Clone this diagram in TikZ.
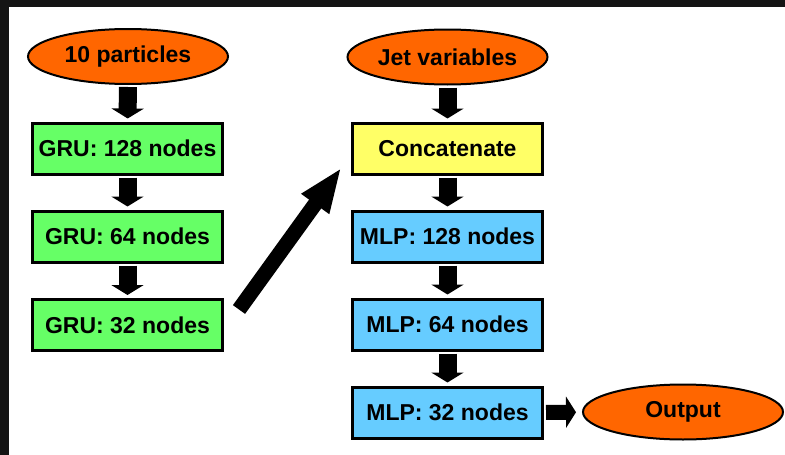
\documentclass[tikz,border=0pt]{standalone}
\usepackage{fontspec}
\setmainfont{Liberation Sans}
\usepackage{tikz}
\usepackage{xcolor}
\usetikzlibrary{shapes.geometric, arrows.meta}

\definecolor{gruGreen}{HTML}{66FF66}
\definecolor{concatYellow}{HTML}{FFFF66}
\definecolor{mlpBlue}{HTML}{66CCFF}
\definecolor{ioOrange}{HTML}{FF6600}
\definecolor{frameDark}{HTML}{141414}

\begin{document}
\begin{tikzpicture}[x=1pt, y=-1pt,
        every node/.style={font=\fontsize{23}{27}\selectfont\bfseries},
        layer/.style={draw, rectangle, line width=3pt, minimum width=190pt, minimum height=51pt, inner sep=0pt},
        io/.style={draw, ellipse, line width=2pt, fill=ioOrange, minimum width=200pt, minimum height=55pt, inner sep=0pt},
        flow/.style={line width=18pt, -{Triangle[width=32pt, length=10pt]}, shorten <=2pt, shorten >=3pt}]
        % frame
        \fill[frameDark] (0, 0) rectangle (785, 455);
        \fill[white] (9, 7) rectangle (785, 455);

        \node (parts)  at (128.0,  56.5) [io] {10 particles};
        \node (gru1)   at (127.5, 148.5) [layer, fill=gruGreen] {GRU: 128 nodes};
        \node (gru2)   at (127.5, 236.5) [layer, fill=gruGreen] {GRU: 64 nodes};
        \node (gru3)   at (127.5, 325.0) [layer, fill=gruGreen] {GRU: 32 nodes};

        \node (jet)    at (447.5,  57.0) [io] {Jet variables};
        \node (concat) at (447.5, 148.5) [layer, fill=concatYellow] {Concatenate};
        \node (mlp1)   at (447.5, 236.5) [layer, fill=mlpBlue] {MLP: 128 nodes};
        \node (mlp2)   at (447.5, 324.5) [layer, fill=mlpBlue] {MLP: 64 nodes};
        \node (mlp3)   at (447.5, 412.5) [layer, fill=mlpBlue] {MLP: 32 nodes};
        \node (output) at (683.0, 412.0) [io] {Output};

        \draw[flow] (parts) -- (gru1);
        \draw[flow] (gru1) -- (gru2);
        \draw[flow] (gru2) -- (gru3);
        \draw[flow] (jet) -- (concat);
        \draw[flow] (concat) -- (mlp1);
        \draw[flow] (mlp1) -- (mlp2);
        \draw[flow] (mlp2) -- (mlp3);
        \draw[line width=15pt, -{Triangle[width=31pt, length=10pt]}, shorten <=2pt, shorten >=6pt] (mlp3) -- (output);
        \draw[line width=15pt, -{Triangle[width=31pt, length=45pt]}]
            ([xshift=15pt, yshift=15.5pt]gru3.east) -- ([xshift=-9.5pt, yshift=8pt]concat.south west);
    \end{tikzpicture}
\end{document}
